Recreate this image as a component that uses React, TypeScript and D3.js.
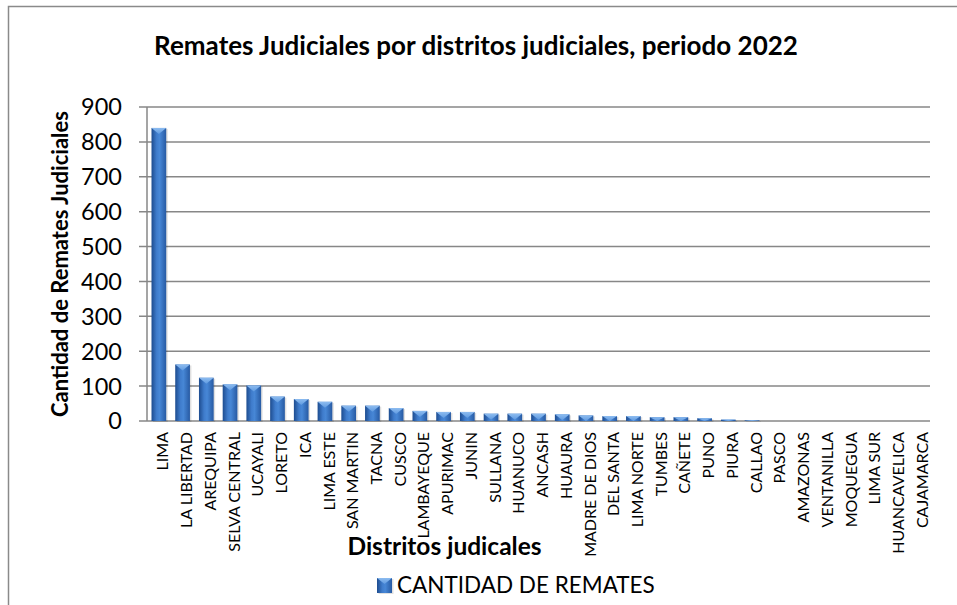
import React from 'react';
import * as d3 from 'd3';

// Distritos judiciales y cantidad de remates (periodo 2022)
const distritos = [
  'LIMA', 'LA LIBERTAD', 'AREQUIPA', 'SELVA CENTRAL', 'UCAYALI', 'LORETO', 'ICA',
  'LIMA ESTE', 'SAN MARTIN', 'TACNA', 'CUSCO', 'LAMBAYEQUE', 'APURIMAC', 'JUNIN',
  'SULLANA', 'HUANUCO', 'ANCASH', 'HUAURA', 'MADRE DE DIOS', 'DEL SANTA',
  'LIMA NORTE', 'TUMBES', 'CAÑETE', 'PUNO', 'PIURA', 'CALLAO', 'PASCO',
  'AMAZONAS', 'VENTANILLA', 'MOQUEGUA', 'LIMA SUR', 'HUANCAVELICA', 'CAJAMARCA',
];
const remates = [
  840, 162, 124, 105, 102, 70, 63, 55, 44, 44, 37, 29, 26, 26, 21, 21, 21, 19,
  16, 14, 14, 11, 11, 8, 4, 2, 0, 0, 0, 0, 0, 0, 0,
];
const yTicks = [0, 100, 200, 300, 400, 500, 600, 700, 800, 900];

const titulo = 'Remates Judiciales por distritos judiciales, periodo 2022';
const tituloY = 'Cantidad de Remates Judiciales';
const tituloX = 'Distritos judicales';
const leyenda = 'CANTIDAD DE REMATES';

const FONT = 'Lato, "Open Sans", sans-serif';

const App: React.FC = () => {
  const width = 957;
  const height = 605;
  const left = 147;
  const right = 930;
  const top = 107;
  const bottom = 421;

  const x = d3.scaleBand<string>()
    .domain(distritos)
    .range([left, right])
    .paddingInner(0.38)
    .paddingOuter(0.19);

  const y = d3.scaleLinear().domain([0, 900]).range([bottom, top]);

  const bw = x.bandwidth();
  const grid = '#878787';

  // Barra con tapa triangular clara, estilo Excel 3D
  const barra = (x0: number, y0: number, w: number, h: number, key: string) => {
    const cap = Math.min(6, h);
    return (
      <g key={key}>
        <rect x={x0 + 1.5} y={y0 + 1} width={w} height={h} fill="#000" opacity={0.12} />
        <rect x={x0} y={y0} width={w} height={h} fill="url(#gradBarra)" />
        {h > 0 && (
          <polygon
            points={`${x0},${y0} ${x0 + w},${y0} ${x0 + w / 2},${y0 + cap}`}
            fill="url(#gradTapa)"
          />
        )}
      </g>
    );
  };

  return (
    <svg
      width={width}
      height={height}
      style={{ position: 'absolute', left: 0, top: 0, background: '#fff' }}
      fontFamily={FONT}
    >
      <defs>
        <linearGradient id="gradBarra" x1="0" x2="1" y1="0" y2="0">
          <stop offset="0" stopColor="#1d4c8f" />
          <stop offset="0.35" stopColor="#3f7ccc" />
          <stop offset="0.55" stopColor="#4787d6" />
          <stop offset="1" stopColor="#275aa3" />
        </linearGradient>
        <linearGradient id="gradTapa" x1="0" x2="0" y1="0" y2="1">
          <stop offset="0" stopColor="#8dbcf0" />
          <stop offset="1" stopColor="#5f9ae0" />
        </linearGradient>
      </defs>

      {/* borde del área del gráfico */}
      <rect x={8.5} y={6.5} width={960} height={620} fill="none" stroke="#8a8a8a" strokeWidth={1.5} />

      <text x={476} y={55} textAnchor="middle" fontSize={26} fontWeight="bold" fill="#000">
        {titulo}
      </text>

      {/* líneas de cuadrícula y marcas */}
      {yTicks.map((t) => (
        <g key={t}>
          <line x1={left - 8} x2={right} y1={y(t)} y2={y(t)} stroke={grid} strokeWidth={1.5} />
          <text x={122} y={y(t)} dy="0.36em" textAnchor="end" fontSize={23.5} fill="#000">
            {t}
          </text>
        </g>
      ))}
      <line x1={left} x2={left} y1={top} y2={bottom} stroke={grid} strokeWidth={1.5} />

      {distritos.map((d, i) => {
        const v = remates[i];
        const x0 = x(d) ?? 0;
        return barra(x0, y(v), bw, bottom - y(v), d);
      })}

      {/* etiquetas de categorías rotadas */}
      {distritos.map((d) => {
        const cx = (x(d) ?? 0) + bw / 2 + 4;
        return (
          <text
            key={d}
            transform={`translate(${cx},432) rotate(-90)`}
            textAnchor="end"
            dy="0.35em"
            fontSize={16}
            fill="#000"
          >
            {d}
          </text>
        );
      })}

      <text
        transform={`translate(60,264) rotate(-90)`}
        textAnchor="middle"
        dy="0.35em"
        fontSize={22}
        fontWeight="bold"
        fill="#000"
      >
        {tituloY}
      </text>

      <text x={444.5} y={555} textAnchor="middle" fontSize={24.5} fontWeight="bold" fill="#000">
        {tituloX}
      </text>

      {/* leyenda */}
      {barra(377, 578, 15, 15, 'leyenda')}
      <text x={397} y={593} fontSize={22.5} fill="#000">
        {leyenda}
      </text>
    </svg>
  );
};

export default App;
